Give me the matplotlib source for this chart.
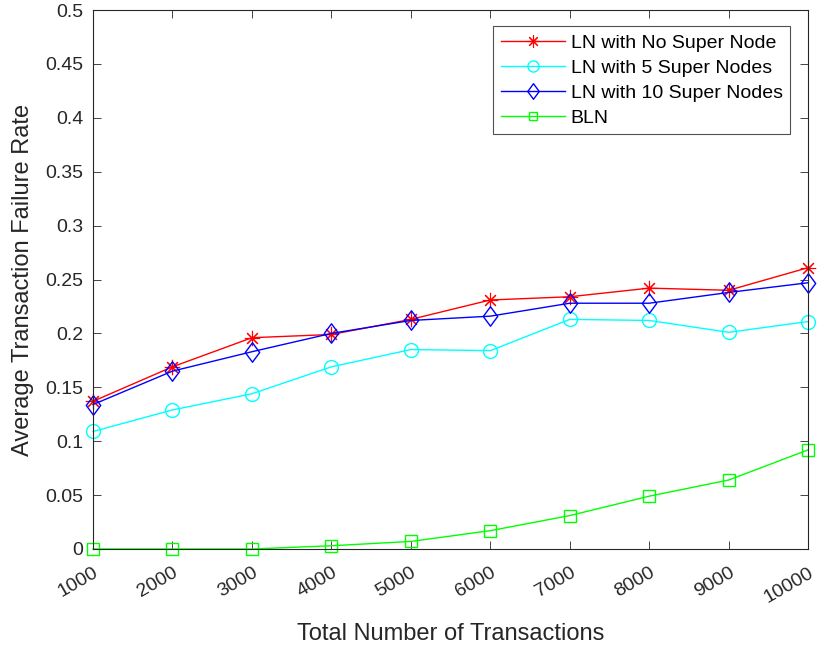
import numpy as np
import matplotlib
matplotlib.use("Agg")
import matplotlib.pyplot as plt
import matplotlib.transforms as mtransforms
from matplotlib.path import Path

plt.rcParams["font.family"] = ["Liberation Sans", "DejaVu Sans"]

# 데이터
n_tx = [1000, 2000, 3000, 4000, 5000, 6000, 7000, 8000, 9000, 10000]
ln_no_super = [0.137, 0.169, 0.196, 0.199, 0.213, 0.231, 0.234, 0.242, 0.240, 0.261]
ln_5_super = [0.109, 0.129, 0.144, 0.169, 0.185, 0.184, 0.213, 0.212, 0.201, 0.211]
ln_10_super = [0.134, 0.165, 0.183, 0.200, 0.212, 0.216, 0.228, 0.228, 0.238, 0.247]
bln = [0.0, 0.0, 0.0, 0.003, 0.007, 0.017, 0.031, 0.049, 0.064, 0.092]

# MATLAB 스타일 마커
diamond = Path([(0, 1), (0.74, 0), (0, -1), (-0.74, 0), (0, 1)],
               [Path.MOVETO, Path.LINETO, Path.LINETO, Path.LINETO, Path.CLOSEPOLY])
asterisk = (8, 2, 0)

fig = plt.figure(figsize=(8.18, 6.5), dpi=100)
ax = fig.add_axes([0.1137, 0.1554, 0.8743, 0.8292])

ax.plot(n_tx, ln_no_super, color="#FF0000", lw=1, marker=asterisk, ms=11,
        mew=0.8, clip_on=False, label="LN with No Super Node")
ax.plot(n_tx, ln_5_super, color="#00FFFF", lw=1, marker="o", ms=10,
        mfc="none", mew=1, clip_on=False, label="LN with 5 Super Nodes")
ax.plot(n_tx, ln_10_super, color="#0000FF", lw=1, marker=diamond, ms=14,
        mfc="none", mew=1, clip_on=False, label="LN with 10 Super Nodes")
ax.plot(n_tx, bln, color="#00FF00", lw=1, marker="s", ms=8,
        mfc="none", mew=1, clip_on=False, label="BLN")

ax.set_xlim(1000, 10000)
ax.set_ylim(0, 0.5)
ax.set_xticks(n_tx)
ax.set_xticklabels([str(v) for v in n_tx], rotation=30, ha="right",
                   va="top", rotation_mode="anchor")
shift = mtransforms.ScaledTranslation(8 / 100, 0, fig.dpi_scale_trans)
for lab in ax.get_xticklabels():
    lab.set_transform(lab.get_transform() + shift)
ax.set_yticks(np.arange(0, 0.51, 0.05))
ax.set_yticklabels(["0", "0.05", "0.1", "0.15", "0.2", "0.25", "0.3",
                    "0.35", "0.4", "0.45", "0.5"])
ax.tick_params(direction="in", top=True, right=True, labelsize=14,
               length=6, width=0.6, color="#262626", labelcolor="#262626")
ax.tick_params(axis="x", pad=11)
ax.tick_params(axis="y", pad=7)
for s in ax.spines.values():
    s.set_linewidth(0.8)
    s.set_color("#262626")

ax.set_xlabel("Total Number of Transactions", fontsize=17, color="#262626",
              labelpad=12)
ax.set_ylabel("Average Transaction Failure Rate", fontsize=17, color="#262626",
              labelpad=8)

leg = ax.legend(loc="upper right", fontsize=14, frameon=True, fancybox=False,
                edgecolor="#262626", borderpad=0.4, labelspacing=0.38,
                handlelength=3.3, handletextpad=0.3, markerscale=0.8,
                borderaxespad=0, bbox_to_anchor=(0.975, 0.970))
leg.get_frame().set_linewidth(0.8)
for t in leg.get_texts():
    t.set_color("black")

plt.savefig("out.png", dpi=100)
plt.close()
